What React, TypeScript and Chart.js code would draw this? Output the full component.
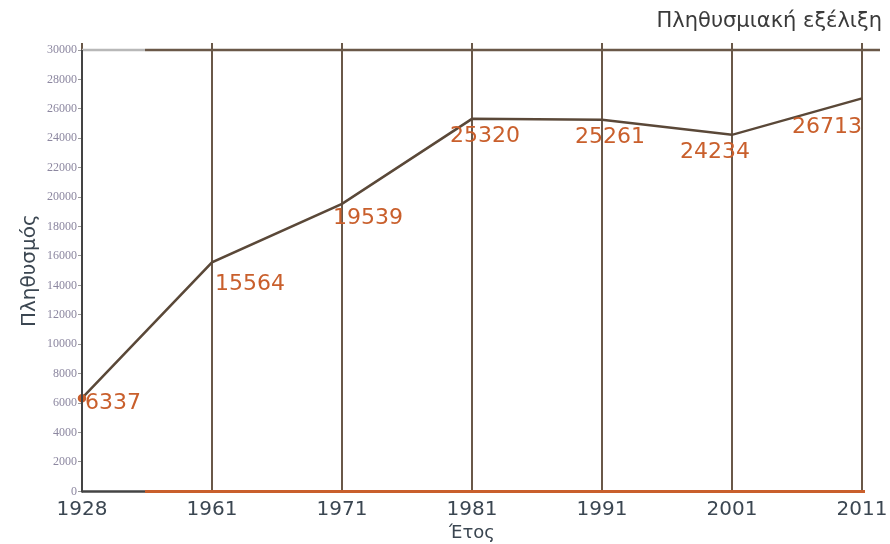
import React, { useEffect, useRef } from "react";
import { Chart, registerables } from "chart.js";

Chart.register(...registerables);

const years = ["1928", "1961", "1971", "1981", "1991", "2001", "2011"];
const population = [6337, 15564, 19539, 25320, 25261, 24234, 26713];
const yTicksMax = 30000;
const yTickStep = 2000;
const chartTitle = "Πληθυσμιακή εξέλιξη";
const yTitle = "Πληθυσμός";
const xTitle = "Έτος";
// label placement (pixel offsets relative to each point, with alignment)
const labelDx = [3, 3, -9, 13, 8, -17, -35];
const labelDy = [5, 22, 14, 17, 18, 17, 29];
const labelAlign: CanvasTextAlign[] = ["left", "left", "left", "center", "center", "center", "center"];

const BROWN = "#6a5848";
const ORANGE = "#c95f2c";

const decorPlugin = {
  id: "decor",
  afterDatasetsDraw(chart: any) {
    const { ctx, chartArea, scales } = chart;
    const yTop = scales.y.getPixelForValue(yTicksMax);
    const y0 = scales.y.getPixelForValue(0);
    const split = chartArea.left + 63;
    ctx.save();
    ctx.lineWidth = 2.5;
    ctx.strokeStyle = "#b8b8b8";
    ctx.beginPath();
    ctx.moveTo(chartArea.left, yTop);
    ctx.lineTo(split, yTop);
    ctx.stroke();
    ctx.strokeStyle = BROWN;
    ctx.beginPath();
    ctx.moveTo(split, yTop);
    ctx.lineTo(chartArea.right + 18, yTop);
    ctx.stroke();
    ctx.strokeStyle = "#444";
    ctx.beginPath();
    ctx.moveTo(chartArea.left, y0);
    ctx.lineTo(split, y0);
    ctx.stroke();
    ctx.strokeStyle = ORANGE;
    ctx.lineWidth = 3;
    ctx.beginPath();
    ctx.moveTo(split, y0);
    ctx.lineTo(chartArea.right + 3, y0);
    ctx.stroke();
    ctx.strokeStyle = "#444";
    ctx.lineWidth = 2;
    ctx.beginPath();
    ctx.moveTo(chartArea.left, yTop);
    ctx.lineTo(chartArea.left, y0 + 1);
    ctx.stroke();
    // title
    ctx.font = "21px 'DejaVu Sans'";
    ctx.fillStyle = "#3a3a3a";
    ctx.textAlign = "right";
    ctx.textBaseline = "middle";
    ctx.fillText(chartTitle, chartArea.right + 20, 22);
    // data labels
    const meta = chart.getDatasetMeta(0);
    ctx.font = "22px 'DejaVu Sans'";
    ctx.fillStyle = ORANGE;
    meta.data.forEach((pt: any, i: number) => {
      ctx.textAlign = labelAlign[i];
      ctx.fillText(String(population[i]), pt.x + labelDx[i], pt.y + labelDy[i]);
    });
    ctx.restore();
  },
};

export default function App() {
  const ref = useRef<HTMLCanvasElement | null>(null);
  useEffect(() => {
    document.body.style.margin = "0";
    const chart = new Chart(ref.current!, {
      type: "line",
      data: {
        labels: years,
        datasets: [
          {
            data: population,
            borderColor: "#5a4838",
            borderWidth: 2.5,
            tension: 0,
            pointRadius: (c: any) => (c.dataIndex === 0 ? 3 : 0),
            pointBackgroundColor: ORANGE,
            pointBorderColor: ORANGE,
            clip: false as any,
          },
        ],
      },
      options: {
        animation: false,
        responsive: false,
        layout: { padding: { left: 18, right: 28, top: 43, bottom: 0 } },
        plugins: {
          legend: { display: false },
          tooltip: { enabled: false },
          title: { display: false },
        },
        scales: {
          x: {
            type: "category",
            offset: false,
            grid: { color: BROWN, lineWidth: 2, drawTicks: false },
            border: { display: false },
            afterFit: (s: any) => {
              s.paddingRight = 0;
              s.paddingLeft = 0;
            },
            ticks: {
              color: "#3b4651",
              font: { family: "'DejaVu Sans'", size: 20 },
              padding: 6,
              maxRotation: 0,
            },
            title: {
              display: true,
              text: xTitle,
              color: "#3b4651",
              font: { family: "'DejaVu Sans'", size: 18 },
              padding: { top: -5, bottom: 0 },
            },
          },
          x2: {
            type: "category",
            position: "top",
            labels: years,
            offset: false,
            grid: { color: BROWN, lineWidth: 2, drawOnChartArea: false, drawTicks: true, tickLength: 7 },
            border: { display: false },
            ticks: { display: false },
          },
          y: {
            min: 0,
            max: yTicksMax,
            grid: { display: true, drawOnChartArea: false, color: "#999", tickLength: 4 },
            border: { display: false },
            ticks: {
              stepSize: yTickStep,
              color: "#8c87a0",
              font: { family: "'Liberation Serif'", size: 12 },
              padding: 1,
              callback: (v: any) => String(v),
            },
            title: {
              display: true,
              text: yTitle,
              color: "#3b4651",
              font: { family: "'DejaVu Sans'", size: 20 },
              padding: { top: 0, bottom: 4 },
            },
          },
        },
      },
      plugins: [decorPlugin],
    });
    return () => chart.destroy();
  }, []);
  return (
    <div style={{ width: 890, height: 544 }}>
      <canvas ref={ref} width={890} height={544} />
    </div>
  );
}
